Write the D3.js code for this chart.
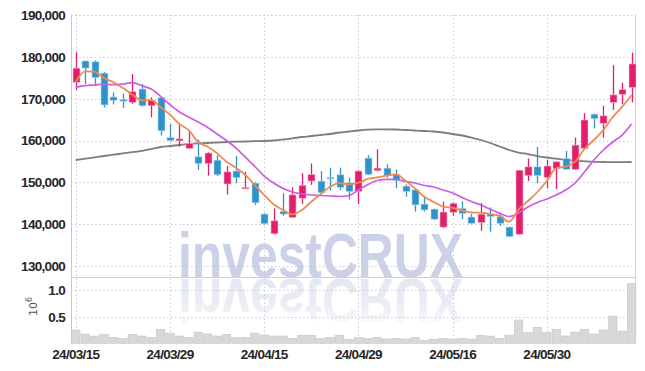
<!DOCTYPE html>
<html><head><meta charset="utf-8">
<script src="https://cdn.jsdelivr.net/npm/d3@7"></script>
<style>
html,body{margin:0;padding:0;background:#fff;}
svg{display:block;}
</style></head>
<body><svg id="c" width="645" height="371" xmlns="http://www.w3.org/2000/svg" xmlns:xlink="http://www.w3.org/1999/xlink"></svg>
<script>
const dates = ["24/03/15","24/03/18","24/03/19","24/03/20","24/03/21","24/03/22","24/03/25","24/03/26","24/03/27","24/03/28",
"24/03/29","24/04/01","24/04/02","24/04/03","24/04/04","24/04/05","24/04/08","24/04/09","24/04/11","24/04/12",
"24/04/15","24/04/16","24/04/17","24/04/18","24/04/19","24/04/22","24/04/23","24/04/24","24/04/25","24/04/26",
"24/04/29","24/04/30","24/05/02","24/05/03","24/05/07","24/05/08","24/05/09","24/05/10","24/05/13","24/05/14",
"24/05/16","24/05/17","24/05/20","24/05/21","24/05/22","24/05/23","24/05/24","24/05/27","24/05/28","24/05/29",
"24/05/30","24/05/31","24/06/03","24/06/04","24/06/05","24/06/07","24/06/10","24/06/11","24/06/12","24/06/13"];
const openP  = [173900,179000,178800,176100,170400,169800,169100,172300,168300,170200,160700,159900,158100,156100,154500,155300,149600,152700,148700,149800,142400,137700,143100,141600,146200,150300,150300,151200,151800,149900,147800,155800,152800,153400,151800,149100,148200,144800,143600,139300,142800,143800,141700,140400,142400,141800,139300,137600,151600,153700,151200,153300,155700,153100,158100,166300,164100,169100,171000,172700];
const highP  = [181100,179100,179200,176400,171500,171200,175900,173500,170300,170300,163900,163900,162300,160200,157200,156500,153900,156300,152500,150000,142600,143800,147400,148800,152200,154500,152700,153500,153500,151100,152900,156500,157900,154300,153100,149500,148300,146600,143700,145400,145200,145500,142400,145100,144000,142700,139400,153000,155700,158500,155300,155000,157500,160700,166500,166400,168300,178000,173800,181000];
const lowP   = [172100,173500,173000,167900,168600,167800,168700,168100,165500,161200,159800,158500,158000,153000,151600,151500,147100,149800,148400,144600,139900,137500,142000,141500,144800,149400,147400,148000,148100,145900,144800,151800,152600,151100,148600,146600,143000,143000,141000,139100,142000,141200,140000,138400,138200,139600,136900,137500,150300,149800,148600,148400,153000,152900,158000,162900,160700,167300,168700,169100];
const closeP = [177300,177300,175000,168500,169600,169400,171700,168300,169600,162300,160000,160400,159300,154500,157000,151800,152500,151100,148800,145100,140100,140800,142400,147000,149300,151900,147500,150900,148800,147800,152700,151900,153400,151600,150400,147800,144600,143400,141200,142900,145000,142500,140200,142400,141800,140200,137000,152900,153700,151600,153900,154900,153100,158900,164900,165200,165900,170900,172200,178300];
const volume = [250000,175000,137000,170000,110000,90000,170000,137000,110000,260000,190000,137000,110000,210000,175000,137000,170000,110000,110000,190000,155000,137000,137000,90000,150000,150000,90000,110000,150000,75000,110000,90000,110000,80000,90000,80000,110000,50000,75000,90000,80000,90000,80000,150000,137000,90000,155000,437000,200000,300000,200000,260000,137000,210000,260000,175000,250000,510000,230000,1125000];
const ma5  = [174060,176540,176450,174940,173910,172550,170950,169610,169680,167930,166170,163940,162440,159570,158520,156940,154930,153500,151750,149360,146970,144750,143380,142350,143380,145370,147210,148960,149790,149530,149910,150800,151200,151580,151920,150390,148570,146560,145300,144220,143910,143270,142790,142740,142430,141950,140590,143500,145530,147690,150320,153420,153740,154930,157970,160120,162510,165620,168080,170880];
const ma10 = [172716,173098,173266,173433,173337,173505,173816,173098,172309,170564,168556,166811,165616,164420,163106,161550,160000,158200,156050,153780,151510,149840,148520,147690,147210,146970,146850,146730,146610,146850,148160,149480,150440,150720,150680,150200,149840,149240,148880,148160,147450,146370,145420,144580,143550,142590,141830,142670,144100,145180,146010,146970,148160,149840,152470,155340,157730,159640,161310,163940];
const ma60 = [155336,155647,155958,156293,156604,156914,157201,157536,157919,158444,158683,158922,159161,159305,159400,159520,159639,159711,159759,159830,159878,159998,160237,160524,160835,161074,161313,161552,161909,162149,162388,162579,162675,162675,162627,162508,162388,162269,162149,161910,161552,161193,160715,160117,159400,158563,157726,157128,156770,156292,155934,155647,155384,155169,155026,154906,154858,154811,154811,154858];
const priceTicks = [130000,140000,150000,160000,170000,180000,190000];
const volTicks = [500000,1000000];
const dateTickIdx = [0,10,20,30,40,50];

const svg = d3.select('#c');
const L = 71, R = 635, T = 14.5, MID = 277, B = 343.3;
const x = d3.scaleLinear().domain([0, 59]).range([75.8, 631.6]);
const yP = d3.scaleLinear().domain([130000, 190000]).range([266, 15]);
const yV = d3.scaleLinear().domain([0, 1e6]).range([B, 290]);
const fontF = "'Liberation Sans','Arial',sans-serif";
const gridC = '#c9c9dd';

// watermark with reflection
const defs = svg.append('defs');
const grad = defs.append('linearGradient').attr('id', 'fade')
  .attr('gradientUnits', 'userSpaceOnUse').attr('x1', 0).attr('y1', 278).attr('x2', 0).attr('y2', 326);
grad.append('stop').attr('offset', 0).attr('stop-color', '#fff').attr('stop-opacity', 0);
grad.append('stop').attr('offset', 0.55).attr('stop-color', '#fff').attr('stop-opacity', 0.25);
grad.append('stop').attr('offset', 1).attr('stop-color', '#fff').attr('stop-opacity', 0.85);
const wm = svg.append('g');
wm.append('text').attr('id', 'wmtext').attr('x', 178).attr('y', 277).text('investCRUX')
  .attr('font-family', fontF).attr('font-weight', 'bold').attr('font-size', 63)
  .attr('textLength', 285).attr('lengthAdjust', 'spacingAndGlyphs')
  .attr('fill', '#cbd1e6');
wm.append('use').attr('href', '#wmtext').attr('xlink:href', '#wmtext')
  .attr('transform', 'translate(0,556) scale(1,-1)').attr('opacity', 0.5);
wm.append('rect').attr('x', 170).attr('y', 278).attr('width', 300).attr('height', 48).attr('fill', 'url(#fade)');

// grids
svg.append('g').selectAll('line').data(priceTicks).join('line')
  .attr('x1', L).attr('x2', R).attr('y1', d => Math.round(yP(d)) + 0.5).attr('y2', d => Math.round(yP(d)) + 0.5)
  .attr('stroke', gridC).attr('stroke-dasharray', '1.5,2.5');
svg.append('g').selectAll('line').data(volTicks).join('line')
  .attr('x1', L).attr('x2', R).attr('y1', d => Math.round(yV(d)) + 0.5).attr('y2', d => Math.round(yV(d)) + 0.5)
  .attr('stroke', gridC).attr('stroke-dasharray', '1.5,2.5');
svg.append('g').selectAll('line').data(dateTickIdx).join('line')
  .attr('x1', d => Math.round(x(d)) + 0.5).attr('x2', d => Math.round(x(d)) + 0.5).attr('y1', T).attr('y2', B)
  .attr('stroke', gridC).attr('stroke-dasharray', '1.5,2.5');

// volume bars
const bw = 9.42;
svg.append('g').selectAll('rect').data(volume).join('rect')
  .attr('x', (d, i) => x(i) - bw / 2 + 0.5).attr('width', bw - 1)
  .attr('y', d => yV(d)).attr('height', d => B - yV(d))
  .attr('fill', '#d8d8d8').attr('stroke', '#c4c4c4').attr('stroke-width', 0.6);

// frame
svg.append('line').attr('x1', L + 0.5).attr('x2', L + 0.5).attr('y1', T).attr('y2', B).attr('stroke', '#c8c8c8');
svg.append('line').attr('x1', R + 0.5).attr('x2', R + 0.5).attr('y1', T).attr('y2', B).attr('stroke', '#d0d0d0');
svg.append('line').attr('x1', L).attr('x2', R).attr('y1', MID + 0.5).attr('y2', MID + 0.5).attr('stroke', '#cfcfcf');

// MA lines
const line = arr => d3.line().x((d, i) => x(i)).y(d => yP(d)).curve(d3.curveMonotoneX)(arr);
svg.append('path').attr('d', line(ma60)).attr('fill', 'none').attr('stroke', '#7d7d7d').attr('stroke-width', 1.8);

// candles
const up = '#e31f6c', dn = '#2f93c9';
const idx = d3.range(dates.length);
const cg = svg.append('g');
cg.selectAll('line').data(idx).join('line')
  .attr('x1', i => Math.round(x(i)) + 0.5).attr('x2', i => Math.round(x(i)) + 0.5)
  .attr('y1', i => yP(highP[i])).attr('y2', i => yP(lowP[i]))
  .attr('stroke', i => closeP[i] >= openP[i] ? up : dn).attr('stroke-width', 1.3);
cg.selectAll('rect').data(idx).join('rect')
  .attr('x', i => Math.round(x(i)) + 0.5 - 3.5).attr('width', 7)
  .attr('y', i => yP(Math.max(openP[i], closeP[i])))
  .attr('height', i => Math.max(1.5, Math.abs(yP(openP[i]) - yP(closeP[i]))))
  .attr('fill', i => closeP[i] >= openP[i] ? up : dn)
  .attr('stroke', i => closeP[i] >= openP[i] ? '#f6b6cf' : '#b6d9ec').attr('stroke-width', 0.6);

svg.append('path').attr('d', line(ma10)).attr('fill', 'none').attr('stroke', '#cc5be8').attr('stroke-width', 1.7);
svg.append('path').attr('d', line(ma5)).attr('fill', 'none').attr('stroke', '#ef8b4e').attr('stroke-width', 1.8);

// axis labels
const fmt = d3.format(',');
const lab = sel => sel.attr('font-family', fontF).attr('font-weight', 'bold').attr('font-size', 13.5)
  .attr('fill', '#262626').attr('letter-spacing', '-0.7');
svg.append('g').selectAll('text').data(priceTicks).join('text')
  .attr('x', 65).attr('y', d => yP(d)).attr('dy', '0.36em').attr('text-anchor', 'end')
  .call(lab).text(d => fmt(d));
svg.append('g').selectAll('text').data(volTicks).join('text')
  .attr('x', 65).attr('y', d => yV(d)).attr('dy', '0.36em').attr('text-anchor', 'end')
  .call(lab).text(d => (d / 1e6).toFixed(1));
svg.append('g').selectAll('text').data(dateTickIdx).join('text')
  .attr('x', i => x(i)).attr('y', 359).attr('text-anchor', 'middle')
  .call(lab).text(i => dates[i]);

const ul = svg.append('text').attr('transform', 'translate(37,316) rotate(-90)')
  .attr('font-family', "'DejaVu Sans',sans-serif").attr('font-size', 11).attr('fill', '#555');
ul.append('tspan').text('10');
ul.append('tspan').attr('dy', -5).attr('font-size', 8).text('6');
</script>
</body></html>
